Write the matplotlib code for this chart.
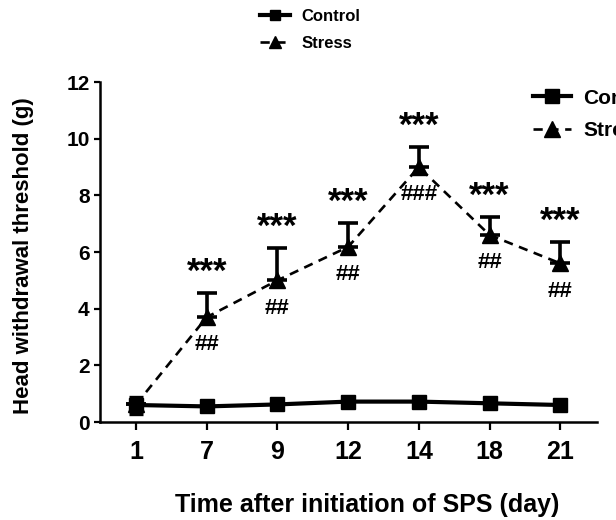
import numpy as np
import matplotlib
matplotlib.use("Agg")
import matplotlib.pyplot as plt
from matplotlib.lines import Line2D

plt.rcParams['font.family'] = ['Liberation Sans', 'DejaVu Sans']
plt.rcParams['font.weight'] = 'bold'

# data
days = ['1', '7', '9', '12', '14', '18', '21']
control_mean = [0.6, 0.55, 0.62, 0.72, 0.72, 0.66, 0.6]
control_sem = [0.3, 0.05, 0.05, 0.05, 0.05, 0.05, 0.05]
stress_mean = [0.62, 3.7, 5.0, 6.18, 9.0, 6.6, 5.6]
stress_sem = [0.25, 0.85, 1.15, 0.84, 0.7, 0.64, 0.75]
stars = ['', '***', '***', '***', '***', '***', '***']
hashes = ['', '##', '##', '##', '###', '##', '##']

x = np.arange(len(days))

fig = plt.figure(figsize=(6.16, 5.2), dpi=100)
ax = fig.add_axes([100/616, 1 - 422/520, 497/616, 340/520])

dash = (0, (3.5, 2.5))

# stress: upper error bars only
up = np.array(stress_sem)
up[0] = 0
ax.errorbar(x, stress_mean, yerr=[np.zeros(len(x)), up], color='black',
            linestyle=dash, linewidth=1.9, marker='^', markersize=11,
            capsize=7, elinewidth=2.6, capthick=2.6, zorder=3)
ax.errorbar(x, control_mean, yerr=control_sem, color='black', linestyle='-',
            linewidth=3, marker='s', markersize=10, capsize=5, elinewidth=2.4,
            capthick=2.4, zorder=4)

for i in range(len(x)):
    if stars[i]:
        ax.annotate(stars[i], xy=(x[i], stress_mean[i] + stress_sem[i]),
                    xytext=(0, 15), textcoords='offset points', ha='center',
                    va='center', fontsize=25, fontweight='bold')
    if hashes[i]:
        ax.annotate(hashes[i], xy=(x[i], stress_mean[i]), xytext=(0, -20),
                    textcoords='offset points', ha='center', va='center',
                    fontsize=16, fontweight='bold')

ax.set_xlim(-0.51, 6.52)
ax.set_ylim(0, 12)
ax.set_xticks(x)
ax.set_xticklabels(days)
ax.set_yticks(np.arange(0, 13, 2))
ax.tick_params(axis='x', length=6, width=1.6, labelsize=18, pad=7)
ax.tick_params(axis='y', length=4.5, width=1.6, labelsize=15, pad=3)
for s in ['top', 'right']:
    ax.spines[s].set_visible(False)
for s in ['left', 'bottom']:
    ax.spines[s].set_linewidth(1.8)

ax.set_xlabel('Time after initiation of SPS (day)', fontsize=18, fontweight='bold')
ax.xaxis.set_label_coords(0.537, -0.209)
ax.set_ylabel('Head withdrawal threshold (g)', fontsize=16, fontweight='bold')
ax.yaxis.set_label_coords(-0.133, 0.488)

handles = [Line2D([], [], color='black', linestyle='-', linewidth=3, marker='s', markersize=10),
           Line2D([], [], color='black', linestyle=dash, linewidth=1.9, marker='^', markersize=11)]
labels = ['Control', 'Stress']
fig.legend(handles, labels, loc='center left', bbox_to_anchor=(260/616, 1 - 30/520),
           frameon=False, fontsize=12, borderpad=0, borderaxespad=0,
           handlelength=1.8, handletextpad=0.7, labelspacing=0.7, markerscale=0.75)
fig.legend(handles, labels, loc='center left', bbox_to_anchor=(533/616, 1 - 114.5/520),
           frameon=False, fontsize=15, borderpad=0, borderaxespad=0,
           handlelength=1.8, handletextpad=0.6, labelspacing=0.65, markerscale=1.0)

fig.savefig('out.png', dpi=100)
